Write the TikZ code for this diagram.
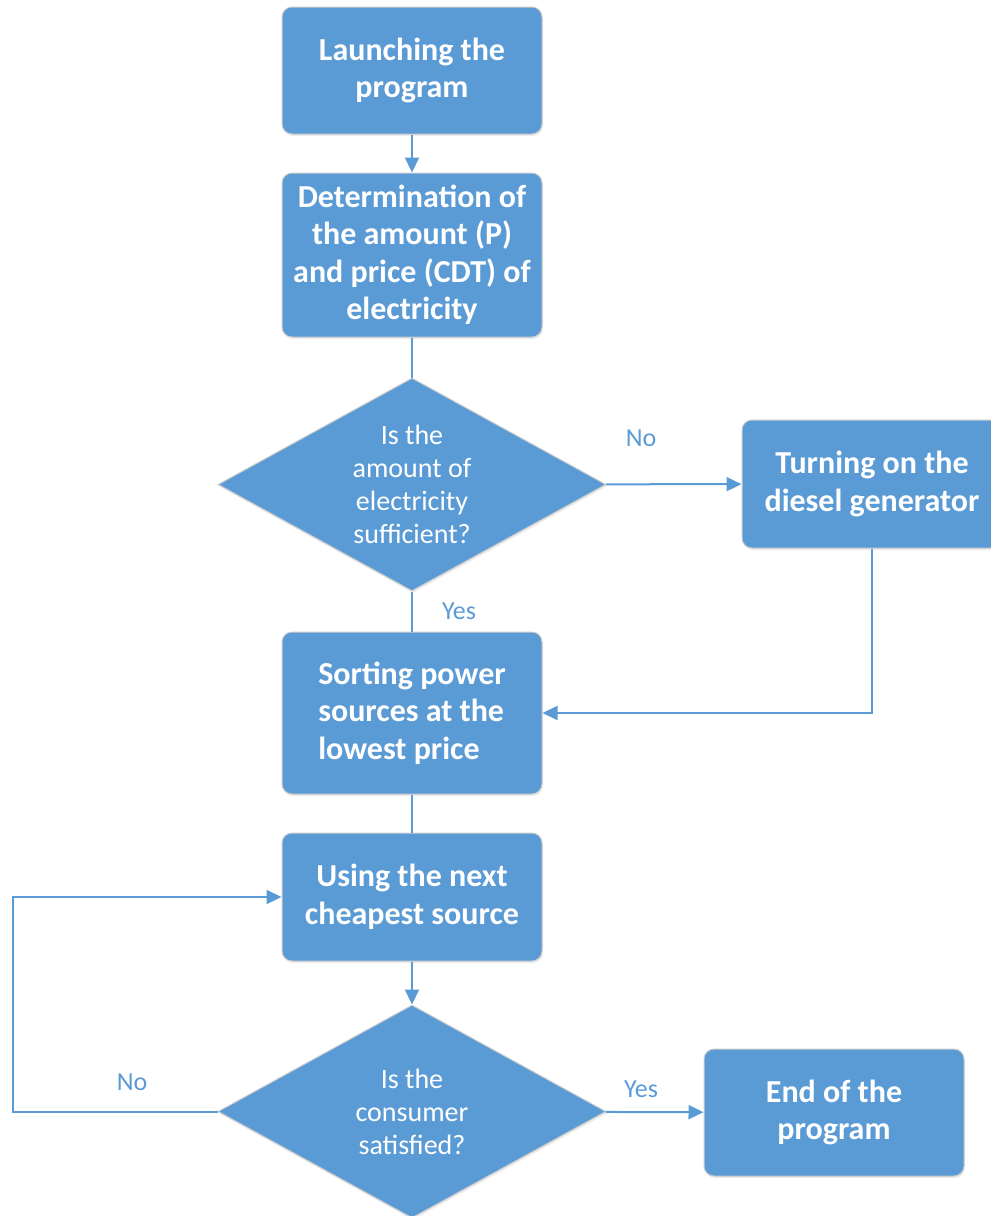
\documentclass[tikz,border=0pt]{standalone}
\usepackage{fontspec}
\setmainfont{Carlito}
\usepackage{tikz}
\usetikzlibrary{shapes.geometric, arrows.meta, shadows}
\definecolor{flowblue}{HTML}{5B9BD5}
\tikzset{
  stepbox/.style = {rectangle, rounded corners=10pt, draw=gray!40, line width=1pt,
    fill=flowblue, text=white, minimum width=260pt, inner sep=0pt, align=center,
    font=\fontsize{32}{37.5}\selectfont\bfseries,
    drop shadow={opacity=0.15, shadow xshift=1pt, shadow yshift=-2pt}},
  query/.style = {diamond, aspect=1.82, draw=gray!40, line width=1pt, fill=flowblue, text=white,
    minimum width=388pt, minimum height=213pt, inner sep=0pt, align=center,
    font=\fontsize{28}{33}\selectfont,
    drop shadow={opacity=0.15, shadow xshift=1pt, shadow yshift=-2pt}},
  flow/.style = {draw=flowblue, line width=2pt},
  arr/.style = {flow, -{Triangle[length=15pt, width=14pt]}},
  lbl/.style = {text=flowblue, font=\fontsize{26}{31}\selectfont}
}

\begin{document}
\begin{tikzpicture}[x=1pt, y=-1pt]
\useasboundingbox (0,0) rectangle (991,1216);

\node[stepbox, minimum height=127pt] (launch) at (412,70.5) {Launching the\\program};
\node[stepbox, minimum height=164pt] (amount) at (412,255) {Determination of\\the amount (P)\\and price (CDT) of\\electricity};
\node[query] (enough) at (412,484.5) {Is the\\amount of\\electricity\\sufficient?};
\node[stepbox, minimum height=128pt] (diesel) at (872,484) {Turning on the\\diesel generator};
\node[stepbox, minimum height=162pt, align=left] (sorting) at (412,713) {Sorting power\\sources at the\\lowest price};
\node[stepbox, minimum height=128pt] (cheapest) at (412,897) {Using the next\\cheapest source};
\node[query] (satisfied) at (412,1111.5) {Is the\\consumer\\satisfied?};
\node[stepbox, minimum height=127pt] (finish) at (834,1112.5) {End of the\\program};
\coordinate (back) at (13,1111.5);

\node[lbl] (no1) at (641,438) {No};
\node[lbl] (yes1) at (459,611) {Yes};
\node[lbl] (yes2) at (641,1089) {Yes};
\node[lbl] (no2) at (132,1082) {No};

\draw[arr] (launch) -- (amount);
\draw[flow] (amount) -- (enough);
\draw[arr] (enough) -- (diesel);
\draw[flow] (enough) -- (sorting);
\draw[arr] (diesel.south) |- (sorting.east);
\draw[flow] (sorting) -- (cheapest);
\draw[arr] (cheapest) -- (satisfied);
\draw[arr] (satisfied) -- (finish);
\draw[arr] (satisfied.west) -- (back) |- (cheapest.west);
\end{tikzpicture}
\end{document}
